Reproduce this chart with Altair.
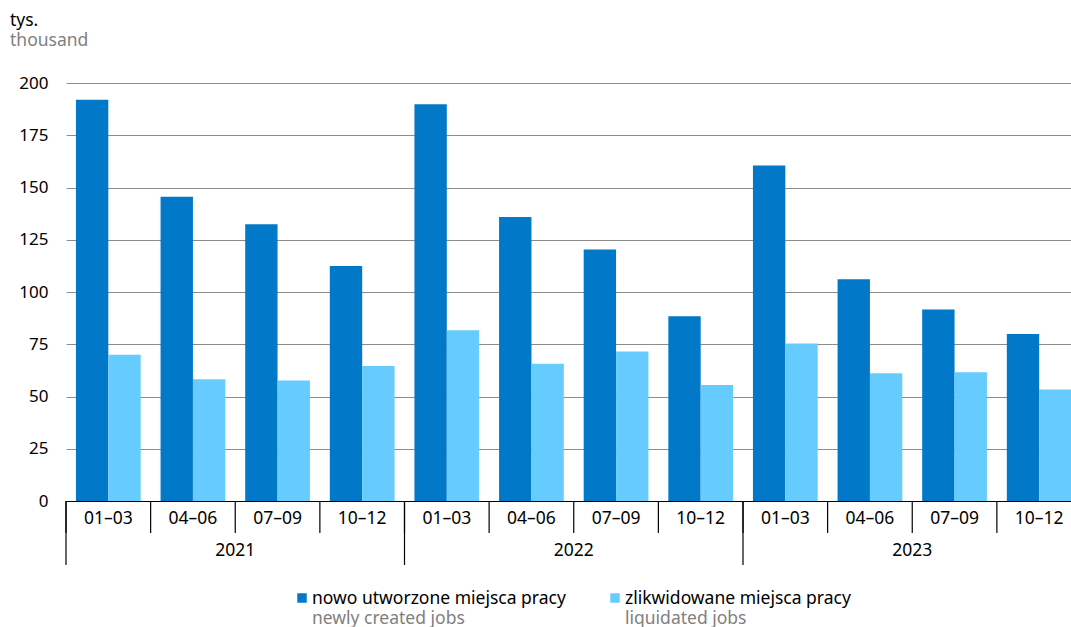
import altair as alt
import pandas as pd

# Quarterly jobs data, thousands
years = ["2021", "2022", "2023"]
quarters = ["01–03", "04–06", "07–09", "10–12"]
new_jobs = [192.0, 145.6, 132.4, 112.4, 189.8, 135.9, 120.3, 88.4, 160.5, 106.1, 91.6, 79.9]
liquidated_jobs = [70.0, 58.2, 57.6, 64.6, 81.7, 65.7, 71.5, 55.5, 75.3, 61.1, 61.6, 53.4]

series_pl = ["nowo utworzone miejsca pracy", "zlikwidowane miejsca pracy"]
series_en = ["newly created jobs", "liquidated jobs"]
colors = ["#0279C8", "#66CCFF"]
y_ticks = [0, 25, 50, 75, 100, 125, 150, 175, 200]

FONT = "Noto Sans"
W, H = 1005, 418

keys = [f"{y} {q}" for y in years for q in quarters]

rows = []
for i, k in enumerate(keys):
    rows.append({"key": k, "series": series_pl[0], "value": new_jobs[i]})
    rows.append({"key": k, "series": series_pl[1], "value": liquidated_jobs[i]})
bars_df = pd.DataFrame(rows)

cat_df = pd.DataFrame({
    "key": keys,
    "quarter": [q for _ in years for q in quarters],
})
year_start_df = pd.DataFrame({"key": [f"{y} {quarters[0]}" for y in years], "year": years})
year_mid_df = pd.DataFrame({"key": [f"{y} {quarters[2]}" for y in years], "year": years})

x_axis = alt.Axis(labels=False, ticks=False, title=None, grid=False,
                  domainColor="#000000", domainWidth=1.2)
x_scale = alt.Scale(range=[0, 1015.5], paddingInner=0, paddingOuter=0)


def xcat(**kw):
    return alt.X("key:N", sort=keys, scale=x_scale, axis=x_axis, **kw)


bars = alt.Chart(bars_df).mark_bar().encode(
    x=xcat(),
    xOffset=alt.XOffset("series:N", sort=series_pl,
                        scale=alt.Scale(paddingInner=0, paddingOuter=0.307)),
    y=alt.Y("value:Q", scale=alt.Scale(domain=[0, 200]),
            axis=alt.Axis(values=y_ticks, title=None, domain=False, ticks=False,
                          grid=True, gridColor="#8c8c8c", gridWidth=1.2,
                          labelPadding=18, labelFont=FONT, labelFontSize=17,
                          labelColor="#000000")),
    color=alt.Color("series:N", scale=alt.Scale(domain=series_pl, range=colors), legend=None),
)

quarter_ticks = alt.Chart(cat_df).mark_rule(color="#000000", strokeWidth=1.2).encode(
    x=xcat(bandPosition=0), y=alt.value(H), y2=alt.value(H + 32)
)
year_ticks = alt.Chart(year_start_df).mark_rule(color="#000000", strokeWidth=1.2).encode(
    x=xcat(bandPosition=0), y=alt.value(H), y2=alt.value(H + 64)
)
quarter_labels = alt.Chart(cat_df).mark_text(
    font=FONT, fontSize=17.5, color="#000000", baseline="middle"
).encode(x=xcat(), y=alt.value(H + 18), text="quarter:N")
year_labels = alt.Chart(year_mid_df).mark_text(
    font=FONT, fontSize=17.5, color="#000000", baseline="middle"
).encode(x=xcat(bandPosition=0), y=alt.value(H + 50), text="year:N")

# Unit caption above the value axis
unit_df = pd.DataFrame({"pl": ["tys."], "en": ["thousand"]})
unit_pl = alt.Chart(unit_df).mark_text(
    font=FONT, fontSize=17.5, color="#000000", align="left", baseline="alphabetic"
).encode(x=alt.value(-56), y=alt.value(-57), text="pl:N")
unit_en = alt.Chart(unit_df).mark_text(
    font=FONT, fontSize=17.5, color="#808080", align="left", baseline="alphabetic"
).encode(x=alt.value(-56), y=alt.value(-37), text="en:N")

# Two-line legend below the chart
legend_layers = []
legend_x = [236, 549]
for i in range(2):
    ldf = pd.DataFrame({"pl": [series_pl[i]], "en": [series_en[i]]})
    lx = legend_x[i]
    legend_layers.append(
        alt.Chart(ldf).mark_square(size=90, color=colors[i], opacity=1).encode(
            x=alt.value(lx), y=alt.value(H + 97)
        )
    )
    legend_layers.append(
        alt.Chart(ldf).mark_text(
            font=FONT, fontSize=17.5, color="#000000", align="left", baseline="alphabetic"
        ).encode(x=alt.value(lx + 10), y=alt.value(H + 103), text="pl:N")
    )
    legend_layers.append(
        alt.Chart(ldf).mark_text(
            font=FONT, fontSize=17.5, color="#808080", align="left", baseline="alphabetic"
        ).encode(x=alt.value(lx + 10), y=alt.value(H + 123), text="en:N")
    )

chart = alt.layer(
    bars, quarter_ticks, year_ticks, quarter_labels, year_labels,
    unit_pl, unit_en, *legend_layers
).properties(
    width=W, height=H,
    autosize=alt.AutoSizeParams(type="none"),
    padding={"left": 66, "top": 83, "right": 0, "bottom": 126},
    background="#ffffff",
).configure_view(stroke=None)

chart.save("out.html", embed_options={"renderer": "svg", "actions": False})
